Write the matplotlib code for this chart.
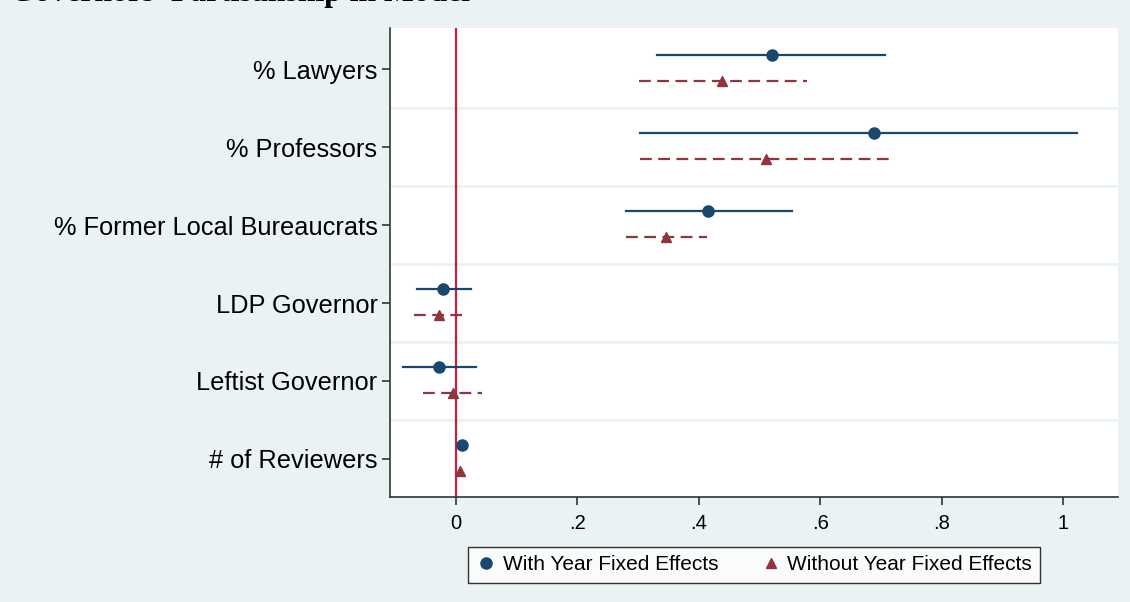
import matplotlib
matplotlib.use("Agg")
import matplotlib.pyplot as plt
from matplotlib.lines import Line2D
import numpy as np

labels = ["% Lawyers", "% Professors", "% Former Local Bureaucrats",
          "LDP Governor", "Leftist Governor", "# of Reviewers"]
# with year fixed effects
fe_est = [0.520, 0.688, 0.416, -0.020, -0.028, 0.010]
fe_lo = [0.332, 0.304, 0.281, -0.064, -0.087, 0.008]
fe_hi = [0.706, 1.023, 0.553, 0.025, 0.033, 0.012]
# without year fixed effects
nofe_est = [0.439, 0.510, 0.347, -0.028, -0.005, 0.007]
nofe_lo = [0.301, 0.304, 0.280, -0.069, -0.053, 0.005]
nofe_hi = [0.579, 0.714, 0.414, 0.010, 0.043, 0.009]
xticks = [0, 0.2, 0.4, 0.6, 0.8, 1]
xticklabels = ["0", ".2", ".4", ".6", ".8", "1"]

navy = "#1a476f"
maroon = "#90353b"
bg = "#eaf2f3"

plt.rcParams["font.family"] = ["Liberation Sans", "DejaVu Sans"]

fig = plt.figure(figsize=(11.3, 6.02), dpi=100)
fig.patch.set_facecolor(bg)
ax = fig.add_axes([390/1130, 1-497/602, (1118-390)/1130, (497-28)/602])
ax.set_facecolor("white")

ypos = np.arange(len(labels))
off_fe = -0.18
off_nofe = 0.15

# separators between categories
for b in ypos[:-1] + 0.5:
    ax.axhline(b, color=bg, lw=2.0, zorder=1)

ax.axvline(0, color="#d01c45", lw=1.6, zorder=2)

for i in ypos:
    ax.plot([fe_lo[i], fe_hi[i]], [i+off_fe]*2, color=navy, lw=1.6, zorder=3)
    ax.plot([nofe_lo[i], nofe_hi[i]], [i+off_nofe]*2, color=maroon, lw=1.6,
            dashes=(5.3, 2.9), zorder=3)
ax.plot(fe_est, ypos+off_fe, "o", color=navy, ms=8, zorder=4)
ax.plot(nofe_est, ypos+off_nofe, "^", color=maroon, ms=7, zorder=4)

ax.set_ylim(len(labels)-1+0.49, -0.53)
ax.set_xlim(-0.108, 1.09)
ax.set_yticks(ypos)
ax.set_yticklabels(labels, fontsize=18.3)
ax.set_xticks(xticks)
ax.set_xticklabels(xticklabels, fontsize=14.5)
ax.tick_params(axis="both", direction="out", length=6, width=1.2, color="#333333")
ax.tick_params(axis="y", pad=3)
ax.tick_params(axis="x", pad=6)
for s in ["top", "right"]:
    ax.spines[s].set_visible(False)
for s in ["left", "bottom"]:
    ax.spines[s].set_color("#333333")
    ax.spines[s].set_linewidth(1.2)

handles = [Line2D([], [], ls="none", marker="o", color=navy, ms=8),
           Line2D([], [], ls="none", marker="^", color=maroon, ms=7)]
leg = fig.legend(handles, ["With Year Fixed Effects", "Without Year Fixed Effects"],
                 loc="center", bbox_to_anchor=(754/1130, 1-565/602), ncol=2,
                 fontsize=15, frameon=True, fancybox=False, handletextpad=0.3,
                 columnspacing=2.0, handlelength=1.0, borderpad=0.4)
leg.get_frame().set_edgecolor("black")
leg.get_frame().set_linewidth(1.0)

fig.text(10/1130, 1-1/602, "Governors' Partisanship in Model", family="Liberation Serif",
         fontweight="bold", fontsize=22.8, va="baseline", ha="left")

fig.savefig("out.png", dpi=100, facecolor=bg)
